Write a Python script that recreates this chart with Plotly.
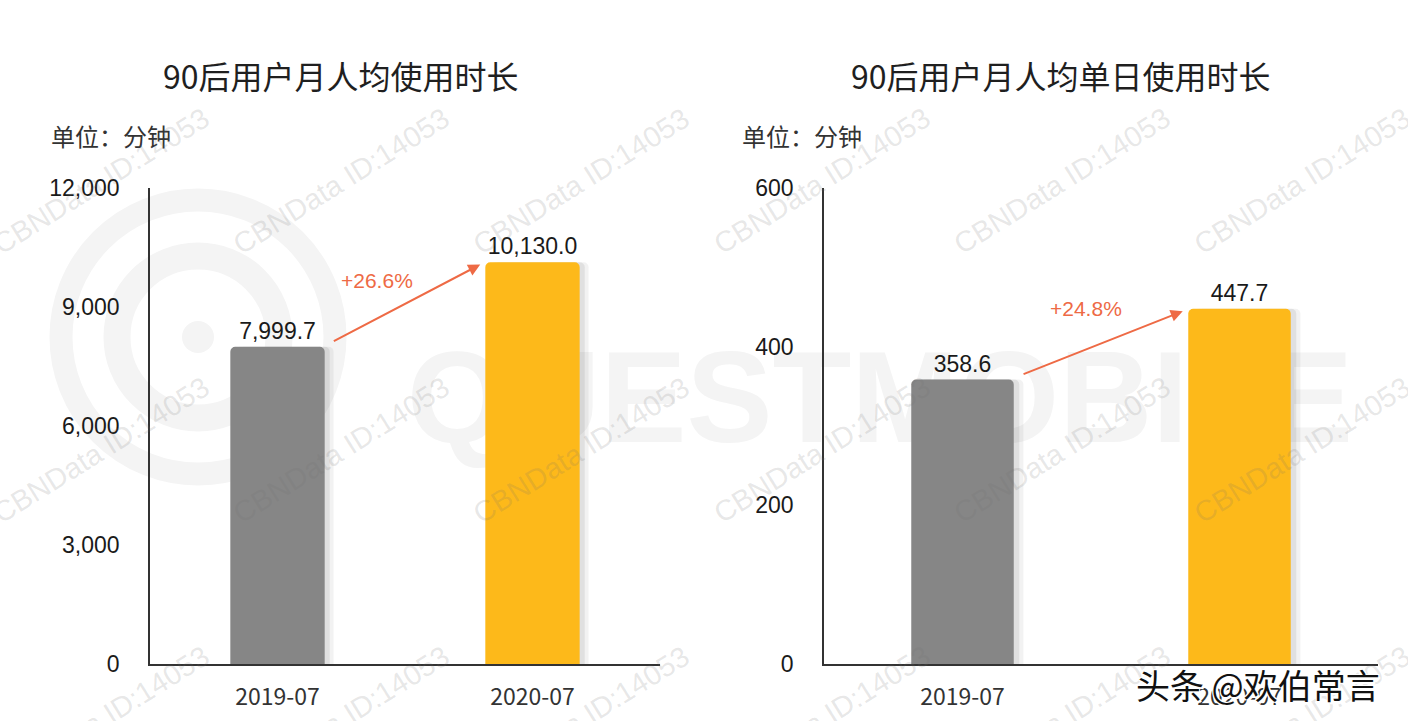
import plotly.graph_objects as go

# ---------------- data ----------------
categories = ["2019-07", "2020-07"]
monthly_minutes = [7999.7, 10130.0]      # 90后用户月人均使用时长
daily_minutes = [358.6, 447.7]           # 90后用户月人均单日使用时长
left_ticks = [0, 3000, 6000, 9000, 12000]
right_ticks = [0, 200, 400, 600]
titles = ["90后用户月人均使用时长", "90后用户月人均单日使用时长"]
unit_label = "单位：分钟"
watermark_text = "CBNData ID:14053"
brand_text = "QUESTMOBILE"
signature = "头条 @欢伯常言"

# ---------------- style ----------------
W, H = 1408, 721
bar_colors = ["#868686", "#FDB91A"]
arrow_color = "#EE6A45"
axis_color = "#333333"
cjk = "Noto Sans CJK SC"
latin = "Liberation Sans"
half_w = 0.185

def px_x(p):
    return p / W

def px_y(p):
    return 1 - p / H

y_domain = [px_y(664), px_y(188)]
panels = [
    dict(values=monthly_minutes, ticks=left_ticks, ymax=left_ticks[-1], xa="x", ya="y",
         xdom=[px_x(150), px_x(660)], title=titles[0], title_x=341, unit_x=49,
         label_t=0.3, label_shift=38),
    dict(values=daily_minutes, ticks=right_ticks, ymax=right_ticks[-1], xa="x2", ya="y2",
         xdom=[px_x(824), px_x(1378)], title=titles[1], title_x=1061, unit_x=740,
         label_t=0.4, label_shift=41),
]

fig = go.Figure()
annotations = []
shapes = []

for i, p in enumerate(panels):
    vals = p["values"]
    # soft shadow to the right of each bar
    for dx, alpha in [(0.035, 0.05), (0.02, 0.07)]:
        fig.add_trace(go.Bar(
            x=categories, y=vals, xaxis=p["xa"], yaxis=p["ya"],
            width=2 * half_w, offset=-half_w + dx,
            marker=dict(color=f"rgba(0,0,0,{alpha})", cornerradius=5, line=dict(width=0)),
            hoverinfo="skip", showlegend=False,
        ))
    fig.add_trace(go.Bar(
        x=categories, y=vals, xaxis=p["xa"], yaxis=p["ya"],
        width=2 * half_w, offset=-half_w,
        marker=dict(color=bar_colors, cornerradius=5, line=dict(width=0)),
        texttemplate="%{y:,.1f}", textposition="outside", cliponaxis=False,
        textfont=dict(family=latin, size=23, color="#1a1a1a"),
        hoverinfo="skip", showlegend=False,
    ))

    # growth arrow
    tail_x, tail_y = half_w + 0.03, vals[0] + 0.01 * p["ymax"]
    head_x, head_y = 1 - half_w - 0.02, vals[1] - 0.005 * p["ymax"]
    annotations.append(dict(
        x=head_x, y=head_y, ax=tail_x, ay=tail_y,
        xref=p["xa"], yref=p["ya"], axref=p["xa"], ayref=p["ya"],
        text="", showarrow=True, arrowhead=2, arrowsize=1.2, arrowwidth=2,
        arrowcolor=arrow_color, standoff=0,
    ))
    growth = vals[1] / vals[0] - 1
    t = p["label_t"]
    annotations.append(dict(
        x=tail_x + t * (head_x - tail_x), y=tail_y + t * (head_y - tail_y),
        xref=p["xa"], yref=p["ya"], yshift=p["label_shift"], showarrow=False,
        xanchor="center", yanchor="middle",
        text=f"+{growth * 100:.1f}%",
        font=dict(family=latin, size=21, color=arrow_color),
    ))
    # title & unit
    annotations.append(dict(
        x=px_x(p["title_x"]), y=px_y(75), xref="paper", yref="paper",
        text=p["title"], showarrow=False, xanchor="center", yanchor="middle",
        font=dict(family=cjk, size=32, color="#1f1f1f"),
    ))
    annotations.append(dict(
        x=px_x(p["unit_x"]), y=px_y(135), xref="paper", yref="paper",
        text=unit_label, showarrow=False, xanchor="left", yanchor="middle",
        font=dict(family=cjk, size=24, color="#333333"),
    ))

# CBNData watermarks (on top)
for cy in [181, 450, 719]:
    for k in range(6):
        cx = 101 + k * 240.2
        annotations.append(dict(
            x=px_x(cx), y=px_y(cy), xref="paper", yref="paper",
            xanchor="center", yanchor="middle",
            text=watermark_text, showarrow=False, textangle=-32,
            font=dict(family=latin, size=29, color="rgba(110,110,110,0.17)"),
        ))

# signature
annotations.append(dict(
    x=px_x(1258), y=px_y(684), xref="paper", yref="paper",
    text=signature, showarrow=False, xanchor="center", yanchor="middle",
    font=dict(family=cjk, size=34, color="#111111",
              shadow="-1px -1px 0 #fff, 1px -1px 0 #fff, -1px 1px 0 #fff, 1px 1px 0 #fff, 2px 2px 0 #fff"),
))

# faint QuestMobile logo behind the charts
logo_col = "#f4f4f4"
for r, lw in [(137, 23), (81, 27)]:
    shapes.append(dict(
        type="circle", layer="below", xref="paper", yref="paper",
        xsizemode="pixel", ysizemode="pixel",
        xanchor=px_x(198), yanchor=px_y(337),
        x0=-r, x1=r, y0=-r, y1=r,
        line=dict(color=logo_col, width=lw), fillcolor="rgba(0,0,0,0)",
    ))
shapes.append(dict(
    type="circle", layer="below", xref="paper", yref="paper",
    xsizemode="pixel", ysizemode="pixel",
    xanchor=px_x(198), yanchor=px_y(337),
    x0=-16, x1=16, y0=-16, y1=16,
    line=dict(width=0), fillcolor=logo_col,
))
shapes.append(dict(
    type="rect", layer="below", xref="paper", yref="paper",
    x0=px_x(380), x1=px_x(1380), y0=px_y(450), y1=px_y(320),
    line=dict(width=0), fillcolor="rgba(0,0,0,0)",
    label=dict(text=f"<b>{brand_text}</b>", textposition="middle center",
               font=dict(family=latin, size=129, color=logo_col)),
))

layout = dict(
    width=W, height=H, margin=dict(l=0, r=0, t=0, b=0, autoexpand=False),
    paper_bgcolor="white", plot_bgcolor="rgba(0,0,0,0)",
    barmode="overlay", showlegend=False,
    annotations=annotations, shapes=shapes,
)
for i, p in enumerate(panels):
    sx = "" if i == 0 else "2"
    layout["xaxis" + sx] = dict(
        domain=p["xdom"], anchor="y" + sx, type="category", range=[-0.5, 1.5],
        showline=True, linecolor=axis_color, linewidth=1.5, showgrid=False, zeroline=False,
        ticks="", tickfont=dict(family=cjk, size=23, color="#333333"),
        ticklabelstandoff=12, fixedrange=True, automargin=False,
    )
    layout["yaxis" + sx] = dict(
        domain=y_domain, anchor="x" + sx, range=[0, p["ymax"]],
        tickvals=p["ticks"], tickformat=",",
        showline=True, linecolor=axis_color, linewidth=1.5, showgrid=False, zeroline=False,
        ticks="", tickfont=dict(family=latin, size=23, color="#1a1a1a"),
        ticklabelstandoff=24, fixedrange=True, automargin=False,
    )
fig.update_layout(**layout)
fig.write_html("out.html")
